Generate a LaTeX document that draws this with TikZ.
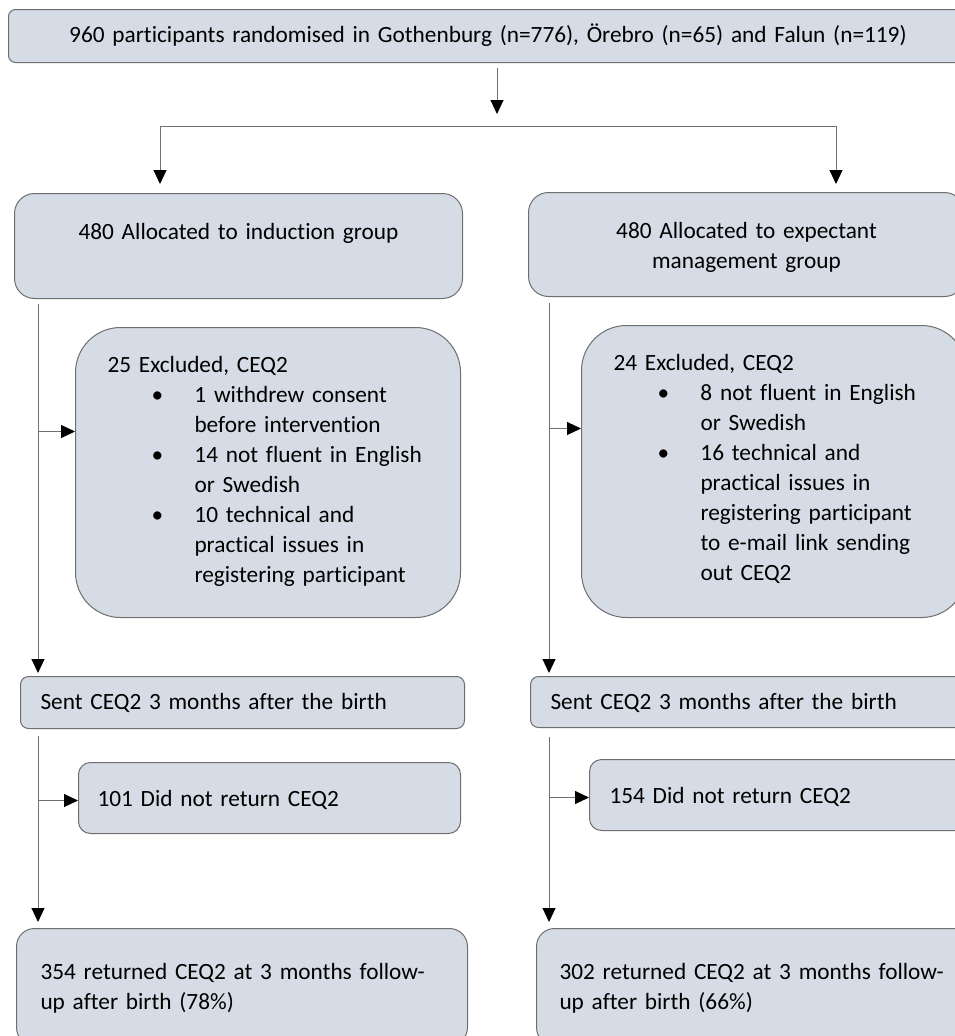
\documentclass[tikz,border=0pt]{standalone}
\usepackage{fontspec}
\setmainfont{Carlito}[Ligatures=NoCommon]
\usetikzlibrary{calc,arrows.meta}
\definecolor{boxfill}{HTML}{D6DCE5}
\definecolor{boxline}{HTML}{6E6E6E}
\definecolor{conn}{HTML}{707070}
\newcommand{\bul}{\noindent\llap{\makebox[43pt][l]{\textbullet}}}
\tikzset{
  box/.style={draw=boxline, fill=boxfill, line width=1pt, anchor=north west,
    inner ysep=0pt, font=\fontsize{23.3pt}{30pt}\selectfont},
  ln/.style={draw=conn, line width=1pt},
  arr/.style={ln, -{Triangle[length=14pt,width=13pt,color=black]}},
}
\begin{document}
\begin{tikzpicture}[x=1pt,y=-1pt]
\useasboundingbox (0,0) rectangle (955,1036);
\clip (0,0) rectangle (955,1036);

\node[box, rounded corners=7pt, minimum width=959pt, minimum height=53pt,
  text width=959pt, inner xsep=0pt, align=center, text height=33pt, text depth=20pt]
  (top) at (8,9) {960 participants randomised in Gothenburg (n=776), Örebro (n=65) and Falun (n=119)};

\node[box, rounded corners=20pt, minimum width=448pt, minimum height=105pt,
  text width=448pt, inner xsep=0pt, align=center, text height=46pt, text depth=59pt]
  (ind) at (14,193) {480 Allocated to induction group};

\node[box, rounded corners=20pt, minimum width=436pt, minimum height=104pt,
  text width=436pt, inner xsep=0pt, align=center, text height=46pt, text depth=58pt]
  (exp) at (528,192) {480 Allocated to expectant\par management group};

\node[box, rounded corners=45pt, minimum width=385pt, minimum height=290pt,
  text width=321pt, inner xsep=32pt, align=left, text height=44.5pt, text depth=245.5pt]
  (exL) at (75,327) {\parindent=0pt 25 Excluded, CEQ2\par
  {\leftskip=87pt
  \bul 1 withdrew consent\par
  before intervention\par
  \bul 14 not fluent in English\par
  or Swedish\par
  \bul 10 technical and\par
  practical issues in\par
  registering participant\par}};

\node[box, rounded corners=45pt, minimum width=385pt, minimum height=292pt,
  text width=321pt, inner xsep=32pt, align=left, text height=44.5pt, text depth=247.5pt]
  (exR) at (581,325) {\parindent=0pt 24 Excluded, CEQ2\par
  {\leftskip=87pt
  \bul 8 not fluent in English\par
  or Swedish\par
  \bul 16 technical and\par
  practical issues in\par
  registering participant\par
  to e-mail link sending\par
  out CEQ2\par}};

\node[box, rounded corners=8pt, minimum width=444pt, minimum height=52pt,
  text width=404pt, inner xsep=20pt, align=left, text height=33pt, text depth=19pt]
  (sentL) at (20,676) {Sent CEQ2 3 months after the birth};

\node[box, rounded corners=8pt, minimum width=444pt, minimum height=51pt,
  text width=404pt, inner xsep=20pt, align=left, text height=33pt, text depth=18pt]
  (sentR) at (530,676) {Sent CEQ2 3 months after the birth};

\node[box, rounded corners=12pt, minimum width=382pt, minimum height=71pt,
  text width=344pt, inner xsep=19pt, align=left, text height=44pt, text depth=27pt]
  (nrL) at (78,762) {101 Did not return CEQ2};

\node[box, rounded corners=12pt, minimum width=382pt, minimum height=71pt,
  text width=342pt, inner xsep=20pt, align=left, text height=44pt, text depth=27pt]
  (nrR) at (589,759) {154 Did not return CEQ2};

\node[box, rounded corners=18pt, minimum width=451pt, minimum height=117pt,
  text width=403pt, inner xsep=24pt, align=left, text height=51pt, text depth=66pt]
  (retL) at (16,928) {354 returned CEQ2 at 3 months follow-\par up after birth (78\%)};

\node[box, rounded corners=18pt, minimum width=451pt, minimum height=117pt,
  text width=405pt, inner xsep=23pt, align=left, text height=51pt, text depth=66pt]
  (retR) at (536,928) {302 returned CEQ2 at 3 months follow-\par up after birth (66\%)};

% split
\coordinate (j) at (497,126);
\coordinate (jl) at (160,126);
\coordinate (jr) at (836,126);
\draw[arr, shorten <=5pt, shorten >=12pt] (top.south -| j) -- (j);
\draw[ln] (jl) -- (jr);
\draw[arr, shorten >=9pt] (jl) -- (jl |- ind.north);
\draw[arr, shorten >=8pt] (jr) -- (jr |- exp.north);

% left column
\coordinate (a1) at ($(ind.south west)+(24,0)$);
\coordinate (bx1) at ([yshift=41pt]exL.west);
\draw[arr, shorten <=5pt, shorten >=3pt] (a1) -- (a1 |- sentL.north);
\draw[arr] (a1 |- bx1) -- (bx1);
\coordinate (a2) at ($(sentL.south west)+(18,0)$);
\coordinate (bx2) at ([yshift=-2.5pt]nrL.west);
\draw[arr, shorten <=7pt, shorten >=6pt] (a2) -- (a2 |- retL.north);
\draw[arr] (a2 |- bx2) -- (bx2);

% right column
\coordinate (c1) at ($(exp.south west)+(21,0)$);
\coordinate (dx1) at ([yshift=43pt]exR.west);
\draw[arr, shorten <=6pt, shorten >=3pt] (c1) -- (c1 |- sentR.north);
\draw[arr] (c1 |- dx1) -- (dx1);
\coordinate (c2) at ($(sentR.south west)+(19,0)$);
\coordinate (dx2) at ([yshift=-2.5pt]nrR.west);
\draw[arr, shorten <=9pt, shorten >=6pt] (c2) -- (c2 |- retR.north);
\draw[arr] (c2 |- dx2) -- (dx2);
\end{tikzpicture}
\end{document}
